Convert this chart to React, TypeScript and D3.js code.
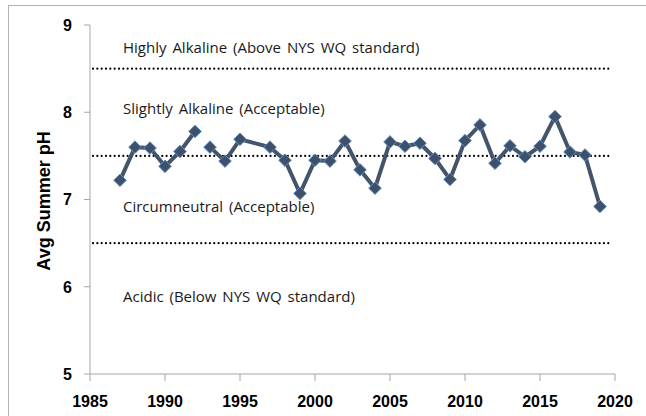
import React from "react";
import * as d3 from "d3";

const years = [1987, 1988, 1989, 1990, 1991, 1992, null, 1993, 1994, 1995, 1997, 1998, 1999, 2000, 2001, 2002, 2003, 2004, 2005, 2006, 2007, 2008, 2009, 2010, 2011, 2012, 2013, 2014, 2015, 2016, 2017, 2018, 2019];
const phValues = [7.22, 7.6, 7.59, 7.38, 7.55, 7.78, null, 7.6, 7.44, 7.69, 7.6, 7.45, 7.07, 7.45, 7.44, 7.67, 7.34, 7.13, 7.66, 7.61, 7.645, 7.47, 7.23, 7.675, 7.855, 7.415, 7.615, 7.49, 7.61, 7.95, 7.545, 7.51, 6.92];
const xTicks = [1985, 1990, 1995, 2000, 2005, 2010, 2015, 2020];
const yTicks = [5, 6, 7, 8, 9];
const thresholds = [8.5, 7.5, 6.5];
const zoneLabels = [
  { text: "Highly Alkaline (Above NYS WQ standard)", value: 8.68 },
  { text: "Slightly Alkaline (Acceptable)", value: 7.98 },
  { text: "Circumneutral (Acceptable)", value: 6.86 },
  { text: "Acidic (Below NYS WQ standard)", value: 5.83 },
];
const yTitle = "Avg Summer pH";

const W = 646;
const H = 416;
const left = 90, right = 615, top = 25, bottom = 374;

export default function App() {
  const x = d3.scaleLinear().domain([1985, 2020]).range([left, right]);
  const y = d3.scaleLinear().domain([5, 9]).range([bottom, top]);
  const pts = years.map((yr, i) => ({ yr, v: phValues[i] }));
  const line = d3
    .line<{ yr: number | null; v: number | null }>()
    .defined((d) => d.yr != null && d.v != null)
    .x((d) => x(d.yr as number))
    .y((d) => y(d.v as number));
  const dm = 6.3;
  const axisColor = "#a6a6a6";
  return (
    <svg
      width={W}
      height={H}
      style={{ position: "fixed", left: 0, top: 0, background: "#fff" }}
    >
      <rect x={8.5} y={5.5} width={W + 10} height={H + 10} fill="#fff" stroke="#b3b3b3" strokeWidth={1} />
      <line x1={left} x2={left} y1={top} y2={bottom} stroke={axisColor} strokeWidth={1} />
      <line x1={left} x2={right} y1={bottom} y2={bottom} stroke={axisColor} strokeWidth={1} />
      {yTicks.map((t) => (
        <g key={"y" + t}>
          <line x1={left - 6} x2={left} y1={y(t)} y2={y(t)} stroke={axisColor} />
          <text
            x={left - 18}
            y={y(t)}
            dy="0.36em"
            textAnchor="end"
            fontFamily="'Liberation Sans', Arial, sans-serif"
            fontWeight="bold"
            fontSize={16}
            fill="#000"
          >
            {t}
          </text>
        </g>
      ))}
      {xTicks.map((t) => (
        <g key={"x" + t}>
          <line x1={x(t)} x2={x(t)} y1={bottom} y2={bottom + 7} stroke={axisColor} />
          <text
            x={x(t)}
            y={406.5}
            textAnchor="middle"
            fontFamily="'Liberation Sans', Arial, sans-serif"
            fontWeight="bold"
            fontSize={16}
            fill="#000"
          >
            {t}
          </text>
        </g>
      ))}
      {thresholds.map((t) => (
        <line
          key={"th" + t}
          x1={left + 3}
          x2={right - 3}
          y1={y(t)}
          y2={y(t)}
          stroke="#000"
          strokeWidth={2.2}
          strokeLinecap="round"
          strokeDasharray="0 4.33"
        />
      ))}
      {zoneLabels.map((z) => (
        <text
          key={z.text}
          x={123}
          y={y(z.value)}
          fontFamily="'Open Sans', sans-serif"
          fontSize={15}
          fill="#1a1a1a"
          style={{ wordSpacing: "2px" }}
        >
          {z.text}
        </text>
      ))}
      <text
        transform={`translate(50,201) rotate(-90)`}
        textAnchor="middle"
        fontFamily="'Liberation Sans', Arial, sans-serif"
        fontWeight="bold"
        fontSize={18}
        fill="#000"
      >
        {yTitle}
      </text>
      <path d={line(pts) || ""} fill="none" stroke="#44546a" strokeWidth={4} strokeLinejoin="round" />
      {pts
        .filter((p) => p.yr != null && p.v != null)
        .map((p) => {
          const cx = x(p.yr as number);
          const cy = y(p.v as number);
          return (
            <path
              key={"m" + p.yr}
              d={`M${cx},${cy - dm}L${cx + dm},${cy}L${cx},${cy + dm}L${cx - dm},${cy}Z`}
              fill="#3f506b"
              stroke="#5b8fc7"
              strokeWidth={1}
            />
          );
        })}
    </svg>
  );
}
